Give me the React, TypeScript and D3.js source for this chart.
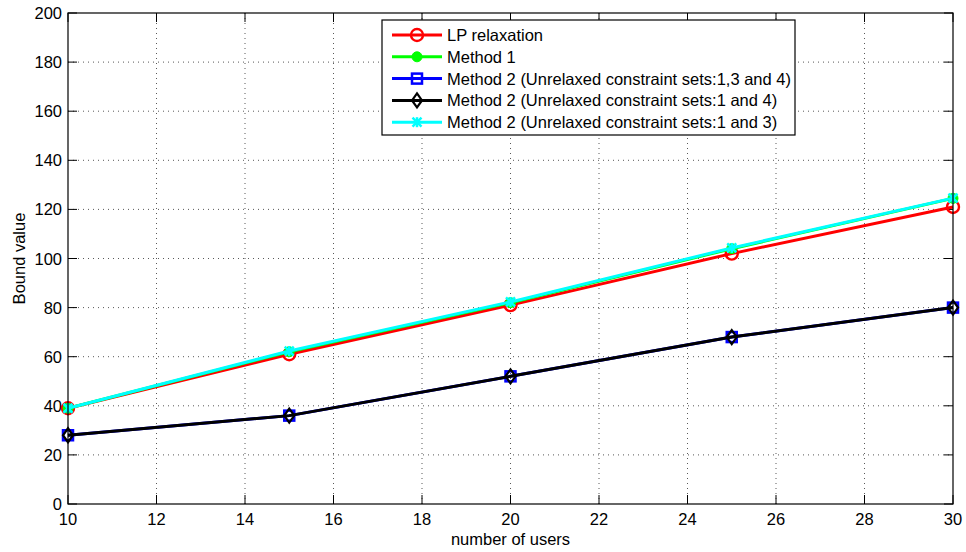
import React from "react";
import * as d3 from "d3";

const users = [10, 15, 20, 25, 30];
const lpRelaxation = [39, 61, 81, 102, 121];
const method1 = [39, 62, 82, 104, 124.5];
const method2_134 = [28, 36, 52, 68, 80];
const method2_14 = [28, 36, 52, 68, 80];
const method2_13 = [39, 62.3, 82.3, 104.3, 124.6];
const xTicks = [10, 12, 14, 16, 18, 20, 22, 24, 26, 28, 30];
const yTicks = [0, 20, 40, 60, 80, 100, 120, 140, 160, 180, 200];
const seriesNames = [
  "LP relaxation",
  "Method 1",
  "Method 2 (Unrelaxed constraint sets:1,3 and 4)",
  "Method 2 (Unrelaxed constraint sets:1 and 4)",
  "Method 2 (Unrelaxed constraint sets:1 and 3)",
];

const W = 966, H = 552;
const L = 68, R = 953, T = 13, B = 504;
const font = "'Liberation Sans', Arial, Helvetica, sans-serif";
const FS = 16.5;

type S = { name: string; values: number[]; color: string; marker: string };
const series: S[] = [
  { name: seriesNames[0], values: lpRelaxation, color: "#ff0000", marker: "circleOpen" },
  { name: seriesNames[1], values: method1, color: "#00ff00", marker: "circleFilled" },
  { name: seriesNames[2], values: method2_134, color: "#0000ff", marker: "square" },
  { name: seriesNames[3], values: method2_14, color: "#000000", marker: "diamond" },
  { name: seriesNames[4], values: method2_13, color: "#00ffff", marker: "x" },
];

function Marker({ type, x, y, color }: { type: string; x: number; y: number; color: string }) {
  switch (type) {
    case "circleOpen":
      return <circle cx={x} cy={y} r={6} fill="none" stroke={color} strokeWidth={2.4} />;
    case "circleFilled":
      return <circle cx={x} cy={y} r={5} fill={color} stroke={color} strokeWidth={1} />;
    case "square":
      return <rect x={x - 5} y={y - 5} width={10} height={10} fill="none" stroke={color} strokeWidth={2.5} />;
    case "diamond":
      return <path d={`M${x},${y - 7}L${x + 5},${y}L${x},${y + 7}L${x - 5},${y}Z`} fill="none" stroke={color} strokeWidth={2.2} />;
    case "x":
      return (
        <g stroke={color} strokeWidth={2.5}>
          <line x1={x - 4.5} y1={y - 4.5} x2={x + 4.5} y2={y + 4.5} />
          <line x1={x - 4.5} y1={y + 4.5} x2={x + 4.5} y2={y - 4.5} />
          <line x1={x} y1={y - 5} x2={x} y2={y + 5} />
        </g>
      );
  }
  return null;
}

export default function App() {
  const x = d3.scaleLinear().domain([10, 30]).range([L, R]);
  const y = d3.scaleLinear().domain([0, 200]).range([B, T]);
  const line = (vals: number[]) =>
    d3.line<number>().x((_, i) => x(users[i])).y((d) => y(d))(vals) || "";

  const legX = 382, legY = 20, legW = 413, legH = 115;
  const rowY = (i: number) => 35 + i * 21.8;

  return (
    <svg width={W} height={H} style={{ position: "absolute", left: 0, top: 0, background: "#fff" }} fontFamily={font}>
      <rect width={W} height={H} fill="#fff" />
      {/* grid */}
      <g stroke="#000" strokeWidth={1} strokeDasharray="1,4" opacity={0.65}>
        {xTicks.slice(1, -1).map((t) => (
          <line key={"gx" + t} x1={x(t)} x2={x(t)} y1={T} y2={B} />
        ))}
        {yTicks.slice(1, -1).map((t) => (
          <line key={"gy" + t} x1={L} x2={R} y1={y(t)} y2={y(t)} />
        ))}
      </g>
      {/* ticks */}
      <g stroke="#000" strokeWidth={1}>
        {xTicks.map((t) => (
          <g key={"tx" + t}>
            <line x1={x(t)} x2={x(t)} y1={B} y2={B - 9} />
            <line x1={x(t)} x2={x(t)} y1={T} y2={T + 9} />
          </g>
        ))}
        {yTicks.map((t) => (
          <g key={"ty" + t}>
            <line x1={L} x2={L + 9} y1={y(t)} y2={y(t)} />
            <line x1={R} x2={R - 9} y1={y(t)} y2={y(t)} />
          </g>
        ))}
      </g>
      {/* tick labels */}
      <g fontSize={FS} fill="#000">
        {xTicks.map((t) => (
          <text key={"lx" + t} x={x(t)} y={B + 21} textAnchor="middle">{t}</text>
        ))}
        {yTicks.map((t) => (
          <text key={"ly" + t} x={L - 6} y={y(t) + 6} textAnchor="end">{t}</text>
        ))}
      </g>
      <text x={(L + R) / 2} y={545} textAnchor="middle" fontSize={FS}>number of users</text>
      <text transform={`translate(25,${(T + B) / 2}) rotate(-90)`} textAnchor="middle" fontSize={FS}>Bound value</text>
      {/* series */}
      {series.map((s, si) => (
        <g key={si}>
          <path d={line(s.values)} fill="none" stroke={s.color} strokeWidth={3} />
          {s.values.map((v, i) => (
            <Marker key={i} type={s.marker} x={x(users[i])} y={y(v)} color={s.color} />
          ))}
        </g>
      ))}
      {/* axes box */}
      <rect x={L} y={T} width={R - L} height={B - T} fill="none" stroke="#000" strokeWidth={1.2} />
      {/* legend */}
      <rect x={legX} y={legY} width={legW} height={legH} fill="#fff" stroke="#000" strokeWidth={1.2} />
      {series.map((s, i) => (
        <g key={"leg" + i}>
          <line x1={392} x2={442} y1={rowY(i)} y2={rowY(i)} stroke={s.color} strokeWidth={3} />
          <Marker type={s.marker} x={417} y={rowY(i)} color={s.color} />
          <text x={447} y={rowY(i) + 6} fontSize={FS}>{s.name}</text>
        </g>
      ))}
    </svg>
  );
}
